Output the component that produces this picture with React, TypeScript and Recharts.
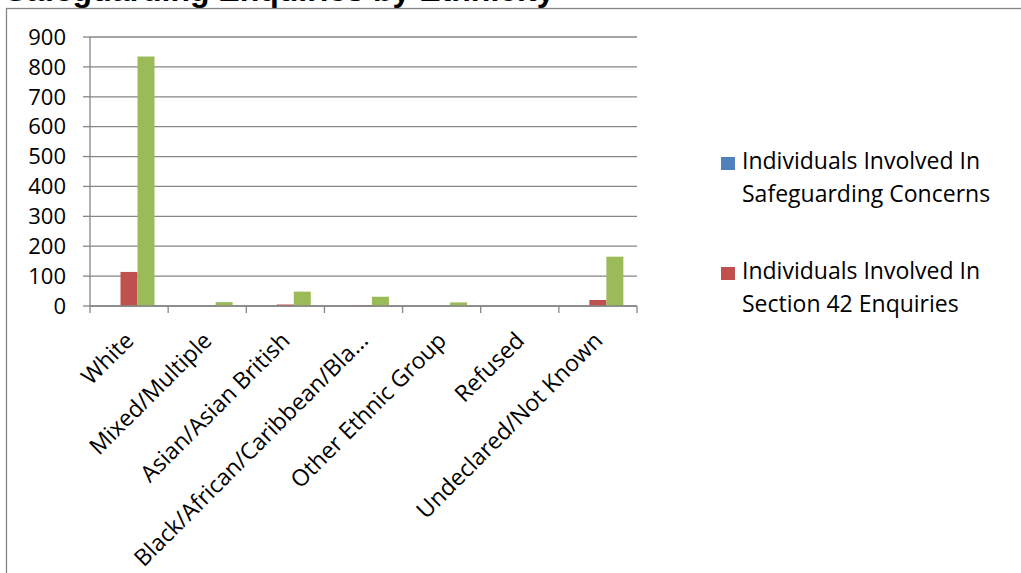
import { BarChart, Bar, XAxis, YAxis, CartesianGrid } from "recharts";

const categories = [
  "White",
  "Mixed/Multiple",
  "Asian/Asian British",
  "Black/African/Caribbean/Bla...",
  "Other Ethnic Group",
  "Refused",
  "Undeclared/Not Known",
];

const concerns = [0, 0, 0, 0, 0, 0, 0];
const section42 = [114, 0, 5, 2, 0, 0, 20];
const concluded = [835, 13, 48, 31, 12, 0, 165];

const yTicks = [0, 100, 200, 300, 400, 500, 600, 700, 800, 900];

const legendItems = [
  { lines: ["Individuals Involved In", "Safeguarding Concerns"], color: "#4F81BD" },
  { lines: ["Individuals Involved In", "Section 42 Enquiries"], color: "#C0504D" },
];

const data = categories.map((name, i) => ({
  name,
  concerns: concerns[i],
  section42: section42[i],
  concluded: concluded[i],
}));

const FONT = "'Open Sans', sans-serif";
const AXIS = "#868686";

function CategoryTick(props: any) {
  const { x, y, payload, index } = props;
  const half = payload?.offset ?? 39;
  return (
    <g>
      <line x1={x - half} y1={y} x2={x - half} y2={y + 7} stroke={AXIS} strokeWidth={1.3} />
      {index === categories.length - 1 && (
        <line x1={x + half} y1={y} x2={x + half} y2={y + 7} stroke={AXIS} strokeWidth={1.3} />
      )}
      <text
        x={x + 6}
        y={y + 36}
        textAnchor="end"
        transform={`rotate(-45, ${x + 6}, ${y + 36})`}
        fill="#000"
        fontSize={23}
        fontFamily={FONT}
      >
        {payload.value}
      </text>
    </g>
  );
}

export default function App() {
  return (
    <div
      style={{
        position: "absolute",
        left: 0,
        top: 0,
        width: 1021,
        height: 573,
        background: "#fff",
        overflow: "hidden",
      }}
    >
      <svg width={1021} height={573} style={{ position: "absolute", left: 0, top: 0 }}>
        <text x={5} y={1} fontFamily="'Liberation Sans', Arial, sans-serif" fontWeight="bold" fontSize={32} fill="#000">
          Safeguarding Enquiries by Ethnicity
        </text>
        <rect x={6.5} y={8.5} width={1100} height={700} fill="none" stroke={AXIS} strokeWidth={1.3} />
      </svg>
      <div style={{ position: "absolute", left: 0, top: 0 }}>
        <BarChart
          width={1021}
          height={573}
          data={data}
          margin={{ top: 37, right: 384, bottom: 167, left: 10 }}
          barCategoryGap={13.5}
          barGap={0}
        >
          <CartesianGrid horizontal vertical={false} stroke={AXIS} strokeWidth={1.3} strokeOpacity={1} />
          <XAxis
            dataKey="name"
            height={100}
            interval={0}
            tickSize={0}
            tickMargin={0}
            tickLine={false}
            axisLine={{ stroke: AXIS, strokeWidth: 1.3 }}
            tick={<CategoryTick />}
          />
          <YAxis
            width={80}
            domain={[0, 900]}
            ticks={yTicks}
            interval={0}
            tickSize={7}
            tickMargin={17}
            tickLine={{ stroke: AXIS, strokeWidth: 1.3 }}
            axisLine={{ stroke: AXIS, strokeWidth: 1.3 }}
            tick={{ fill: "#000", fontSize: 22, fontFamily: FONT }}
          />
          <Bar dataKey="concerns" fill="#4F81BD" isAnimationActive={false} />
          <Bar dataKey="section42" fill="#C0504D" isAnimationActive={false} />
          <Bar dataKey="concluded" fill="#9BBB59" isAnimationActive={false} />
        </BarChart>
      </div>
      <svg width={1021} height={573} style={{ position: "absolute", left: 0, top: 0, pointerEvents: "none" }}>
        {legendItems.map((item, i) => {
          const base = 169 + i * 110;
          return (
            <g key={i}>
              <rect x={721} y={base - 12} width={14} height={13} fill={item.color} />
              {item.lines.map((line, j) => (
                <text key={j} x={742} y={base + j * 33} fontSize={23} fontFamily={FONT} fill="#000">
                  {line}
                </text>
              ))}
            </g>
          );
        })}
      </svg>
    </div>
  );
}
